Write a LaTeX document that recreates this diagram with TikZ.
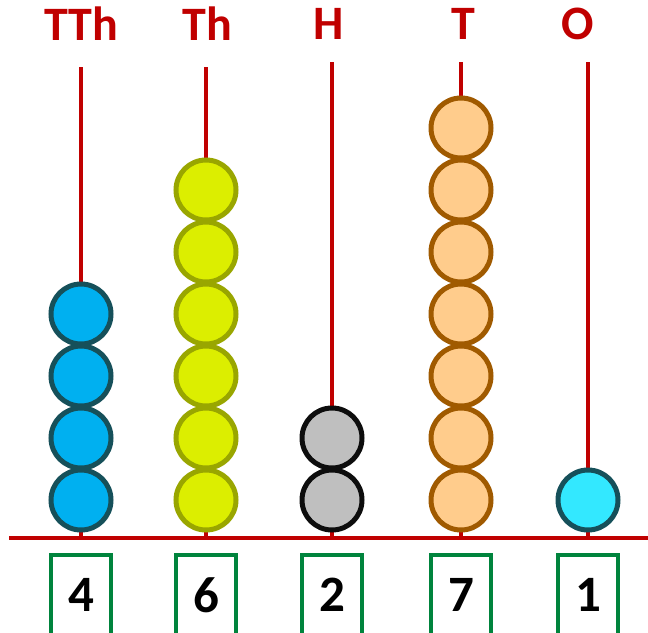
\documentclass[tikz,border=0pt]{standalone}
\usepackage{fontspec}
\setmainfont{Carlito}
\usepackage{xcolor}

\definecolor{abred}{RGB}{192,0,0}
\definecolor{boxgreen}{RGB}{0,132,61}
\definecolor{beadblue}{RGB}{0,176,240}
\definecolor{beadcyan}{RGB}{51,232,255}
\definecolor{beadteal}{RGB}{22,80,90}
\definecolor{beadlime}{RGB}{220,238,0}
\definecolor{beadolive}{RGB}{153,166,0}
\definecolor{beadgray}{RGB}{191,191,191}
\definecolor{beadblack}{RGB}{13,13,13}
\definecolor{beadpeach}{RGB}{255,204,140}
\definecolor{beadbrown}{RGB}{160,90,0}

\begin{document}
\begin{tikzpicture}[x=1pt, y=-1pt,
    rod/.style={draw=abred, line width=3.5pt},
    bead/.style={circle, line width=5pt, minimum size=60pt, inner sep=0pt},
    place/.style={text=abred, font=\fontsize{48}{48}\selectfont\bfseries},
    digitbox/.style={draw=boxgreen, line width=3.5pt, minimum width=60pt,
        minimum height=80pt, inner sep=0pt,
        font=\fontsize{51}{51}\selectfont\bfseries}]

    \useasboundingbox (0,0) rectangle (648,632);

    % Параметры
    \def\ybase{538}
    \def\ystep{62}

    % Основание
    \coordinate (base-l) at (9,\ybase);
    \coordinate (base-r) at (648,\ybase);
    \draw[rod] (base-l) -- (base-r);

    % Разряды: стержень, бусины, подпись, цифра
    \foreach \i/\x/\xl/\ytop/\lab/\n/\fc/\dc in {
        1/81/81/67/TTh/4/beadblue/beadteal,
        2/206/207/67/Th/6/beadlime/beadolive,
        3/332/329/62/H/2/beadgray/beadblack,
        4/461/463/62/T/7/beadpeach/beadbrown,
        5/588/578/62/O/1/beadcyan/beadteal}
    {
        \coordinate (top-\i) at (\x,\ytop);
        \coordinate (foot-\i) at (\x,\ybase);
        \draw[rod] (top-\i) -- (foot-\i);
        \foreach \k in {1,...,\n}
            \node[bead, fill=\fc, draw=\dc] (bead-\i-\k) at (\x,{500-\ystep*(\k-1)}) {};
        \node[place] (lab-\i) at (\xl,24) {\lab};
        \node[digitbox] (box-\i) at (\x,595) {\n};
    }

\end{tikzpicture}
\end{document}
